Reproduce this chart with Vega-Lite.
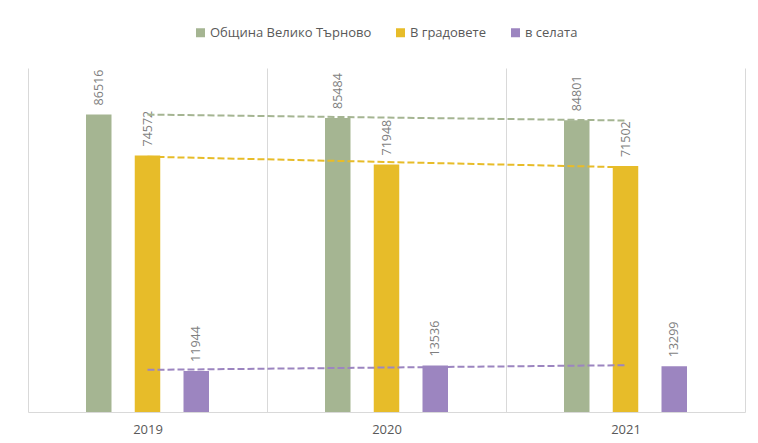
{
  "$schema": "https://vega.github.io/schema/vega-lite/v6.json",
  "width": 717,
  "height": 344,
  "autosize": "none",
  "padding": {"left": 28, "top": 68, "right": 13, "bottom": 31},
  "background": "white",
  "config": {"view": {"stroke": null}, "font": "Open Sans"},
  "datasets": {
    "bars": [
      {"year": 2019, "series": "Община Велико Търново", "value": 86516},
      {"year": 2019, "series": "В градовете", "value": 74572},
      {"year": 2019, "series": "в селата", "value": 11944},
      {"year": 2020, "series": "Община Велико Търново", "value": 85484},
      {"year": 2020, "series": "В градовете", "value": 71948},
      {"year": 2020, "series": "в селата", "value": 13536},
      {"year": 2021, "series": "Община Велико Търново", "value": 84801},
      {"year": 2021, "series": "В градовете", "value": 71502},
      {"year": 2021, "series": "в селата", "value": 13299}
    ],
    "trend": [
      {"year": 2019, "series": "Община Велико Търново", "value": 86458},
      {"year": 2021, "series": "Община Велико Търново", "value": 84743},
      {"year": 2019, "series": "В градовете", "value": 74209},
      {"year": 2021, "series": "В градовете", "value": 71139},
      {"year": 2019, "series": "в селата", "value": 12249},
      {"year": 2021, "series": "в селата", "value": 13604}
    ]
  },
  "layer": [
    {
      "data": {"name": "bars"},
      "mark": {"type": "bar"},
      "encoding": {
        "x": {
          "field": "year", "type": "ordinal",
          "scale": {"paddingInner": 0, "paddingOuter": 0},
          "axis": {
            "title": null, "labelAngle": 0, "labelFontSize": 13, "labelColor": "#595959",
            "labelPadding": 11, "ticks": false, "tickBand": "extent",
            "grid": true, "gridColor": "#d9d9d9", "domainColor": "#d9d9d9"
          }
        },
        "xOffset": {
          "field": "series", "type": "nominal",
          "scale": {"domain": [" ", "Община Велико Търново", "В градовете", "в селата", "  "], "paddingInner": 0.477, "paddingOuter": 0.19}
        },
        "y": {"field": "value", "type": "quantitative", "scale": {"domain": [0, 100000]}, "axis": null},
        "color": {
          "field": "series", "type": "nominal",
          "scale": {"domain": ["Община Велико Търново", "В градовете", "в селата"], "range": ["#A5B592", "#E7BC29", "#9C85C0"]},
          "legend": {
            "title": null, "orient": "none", "legendX": 166, "legendY": -42, "direction": "horizontal",
            "symbolType": "square", "symbolSize": 81, "symbolStrokeWidth": 0, "labelLimit": 400,
            "labelFontSize": 13, "labelColor": "#595959", "columnPadding": 22, "labelOffset": 3, "padding": 0
          }
        }
      }
    },
    {
      "data": {"name": "bars"},
      "mark": {"type": "text", "angle": 270, "align": "left", "baseline": "middle", "dx": 9, "fontSize": 12.5, "color": "#7f7f7f"},
      "encoding": {
        "x": {"field": "year", "type": "ordinal"},
        "xOffset": {"field": "series", "type": "nominal"},
        "y": {"field": "value", "type": "quantitative"},
        "text": {"field": "value", "type": "quantitative", "format": "d"}
      }
    },
    {
      "data": {"name": "trend"},
      "mark": {"type": "line", "strokeDash": [7, 3], "strokeWidth": 2},
      "encoding": {
        "x": {"field": "year", "type": "ordinal"},
        "y": {"field": "value", "type": "quantitative"},
        "detail": {"field": "series", "type": "nominal"},
        "stroke": {
          "field": "series", "type": "nominal",
          "scale": {"domain": ["Община Велико Търново", "В градовете", "в селата"], "range": ["#A5B592", "#E7BC29", "#9C85C0"]},
          "legend": null
        }
      }
    }
  ]
}
